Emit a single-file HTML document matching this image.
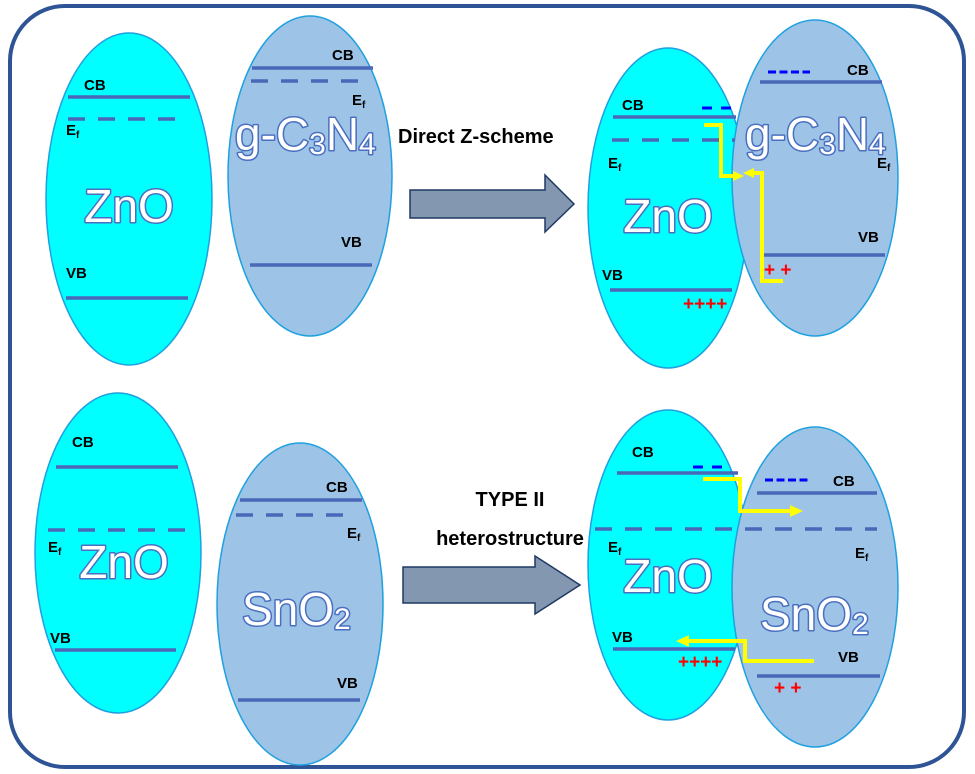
<!DOCTYPE html>
<html><head><meta charset="utf-8"><style>
html,body{margin:0;padding:0;background:#fff;width:975px;height:774px;overflow:hidden}
svg{display:block}
.lb{font-family:"Liberation Sans",sans-serif;font-weight:bold;font-size:15px;fill:#000}
.big{font-family:"Liberation Sans",sans-serif;font-size:46px;fill:#fff;stroke:#4a6fc0;stroke-width:3px;paint-order:stroke;stroke-linejoin:round}
.t{font-family:"Liberation Sans",sans-serif;font-weight:bold;font-size:20px;fill:#000}
.ln{stroke:#4a67b8;stroke-width:3.5}
.dl{stroke:#4a67b8;stroke-width:3.5;stroke-dasharray:17 13}
.zn{fill:#00ffff;stroke:#1fa0e0;stroke-width:1.5}
.gc{fill:#9dc3e6;stroke:#1fa0e0;stroke-width:1.5}
.y{fill:none;stroke:#ffff00;stroke-width:4}
.neg2{stroke:#0000ff;stroke-width:3;stroke-dasharray:10 9}
.neg{stroke:#0000ff;stroke-width:3;stroke-dasharray:8 3.5}
.pl{font-family:"Liberation Sans",sans-serif;font-weight:bold;font-size:19px;fill:#ff0000}
</style></head><body>
<svg width="975" height="774" viewBox="0 0 975 774">
<rect x="10" y="6" width="954" height="761" rx="55" fill="#fff" stroke="#2f5496" stroke-width="4"/>

<!-- top left -->
<ellipse class="zn" cx="129" cy="199" rx="83" ry="166"/>
<line class="ln" x1="68" y1="97" x2="190" y2="97"/>
<line class="dl" x1="68" y1="119" x2="188" y2="119"/>
<line class="ln" x1="66" y1="298" x2="188" y2="298"/>
<text class="lb" x="84" y="90">CB</text>
<text class="lb" x="66" y="135">E<tspan font-size="10" dy="3">f</tspan></text>
<text class="lb" x="66" y="278">VB</text>
<text class="big" x="129" y="222" text-anchor="middle">ZnO</text>

<ellipse class="gc" cx="310" cy="176" rx="82" ry="160"/>
<line class="ln" x1="252" y1="68" x2="373" y2="68"/>
<line class="dl" x1="251" y1="81" x2="370" y2="81"/>
<line class="ln" x1="250" y1="265" x2="372" y2="265"/>
<text class="lb" x="332" y="60">CB</text>
<text class="lb" x="352" y="105">E<tspan font-size="10" dy="3">f</tspan></text>
<text class="lb" x="341" y="247">VB</text>
<text class="big" x="235" y="150">g-C<tspan font-size="30" dy="4">3</tspan><tspan dy="-4">N</tspan><tspan font-size="30" dy="4">4</tspan></text>

<text class="t" x="398" y="143">Direct Z-scheme</text>
<polygon points="410,190 545,190 545,175 574,204 545,232 545,218 410,218" fill="#8497b0" stroke="#1f3864" stroke-width="1.5"/>

<!-- top right -->
<ellipse class="zn" cx="668" cy="208" rx="80" ry="160"/>
<ellipse class="gc" cx="815" cy="178" rx="83" ry="158"/>
<line class="ln" x1="613" y1="117" x2="736" y2="117"/>
<line class="dl" x1="612" y1="140" x2="735" y2="140"/>
<line class="ln" x1="610" y1="290" x2="732" y2="290"/>
<line class="ln" x1="760" y1="82" x2="882" y2="82"/>
<line class="ln" x1="763" y1="255" x2="885" y2="255"/>
<line class="neg2" x1="702" y1="108" x2="731" y2="108"/>
<line class="neg" x1="768" y1="72" x2="810" y2="72"/>
<text class="lb" x="622" y="110">CB</text>
<text class="lb" x="608" y="168">E<tspan font-size="10" dy="3">f</tspan></text>
<text class="lb" x="602" y="280">VB</text>
<text class="lb" x="847" y="75">CB</text>
<text class="lb" x="877" y="168">E<tspan font-size="10" dy="3">f</tspan></text>
<text class="lb" x="858" y="242">VB</text>
<text class="pl" x="683" y="310">++++</text>
<text class="pl" x="764" y="276">+ +</text>
<text class="big" x="668" y="232" text-anchor="middle">ZnO</text>
<text class="big" x="745" y="150">g-C<tspan font-size="30" dy="4">3</tspan><tspan dy="-4">N</tspan><tspan font-size="30" dy="4">4</tspan></text>
<polyline class="y" points="704,125 721,125 721,176 735,176"/>
<polygon points="744,176 733,171 733,181" fill="#ffff00"/>
<polyline class="y" points="783,281 762,281 762,173 752,173"/>
<polygon points="743,173 754,168 754,178" fill="#ffff00"/>

<!-- bottom left -->
<ellipse class="zn" cx="118" cy="553" rx="83" ry="160"/>
<line class="ln" x1="56" y1="467" x2="178" y2="467"/>
<line class="dl" x1="48" y1="530" x2="198" y2="530"/>
<line class="ln" x1="55" y1="650" x2="176" y2="650"/>
<text class="lb" x="72" y="447">CB</text>
<text class="lb" x="48" y="552">E<tspan font-size="10" dy="3">f</tspan></text>
<text class="lb" x="50" y="643">VB</text>
<text class="big" x="124" y="578" text-anchor="middle">ZnO</text>

<ellipse class="gc" cx="300" cy="604" rx="83" ry="161"/>
<line class="ln" x1="240" y1="500" x2="362" y2="500"/>
<line class="dl" x1="236" y1="515" x2="356" y2="515"/>
<line class="ln" x1="238" y1="700" x2="360" y2="700"/>
<text class="lb" x="326" y="492">CB</text>
<text class="lb" x="347" y="538">E<tspan font-size="10" dy="3">f</tspan></text>
<text class="lb" x="337" y="688">VB</text>
<text class="big" x="242" y="625">SnO<tspan font-size="30" dy="4">2</tspan></text>

<text class="t" x="510" y="506" text-anchor="middle">TYPE II</text>
<text class="t" x="510" y="545" text-anchor="middle">heterostructure</text>
<polygon points="403,567 535,567 535,556 580,585 535,614 535,603 403,603" fill="#8497b0" stroke="#1f3864" stroke-width="1.5"/>

<!-- bottom right -->
<ellipse class="zn" cx="668" cy="565" rx="80" ry="155"/>
<ellipse class="gc" cx="815" cy="587" rx="83" ry="160"/>
<line class="ln" x1="617" y1="473" x2="738" y2="473"/>
<line class="dl" x1="595" y1="529" x2="877" y2="529"/>
<line class="ln" x1="757" y1="493" x2="877" y2="493"/>
<line class="ln" x1="613" y1="649" x2="735" y2="649"/>
<line class="ln" x1="757" y1="676" x2="880" y2="676"/>
<line class="neg2" x1="693" y1="467" x2="722" y2="467"/>
<line class="neg" x1="765" y1="480" x2="808" y2="480"/>
<text class="lb" x="632" y="457">CB</text>
<text class="lb" x="833" y="486">CB</text>
<text class="lb" x="608" y="552">E<tspan font-size="10" dy="3">f</tspan></text>
<text class="lb" x="855" y="558">E<tspan font-size="10" dy="3">f</tspan></text>
<text class="lb" x="612" y="642">VB</text>
<text class="lb" x="838" y="662">VB</text>
<text class="pl" x="678" y="668">++++</text>
<text class="pl" x="774" y="694">+ +</text>
<text class="big" x="668" y="592" text-anchor="middle">ZnO</text>
<text class="big" x="760" y="630">SnO<tspan font-size="30" dy="4">2</tspan></text>
<polyline class="y" points="703,479 740,479 740,511 792,511"/>
<polygon points="803,511 790,505 790,517" fill="#ffff00"/>
<polyline class="y" points="814,661 745,661 745,641 687,641"/>
<polygon points="676,641 689,635 689,647" fill="#ffff00"/>
</svg>
</body></html>
